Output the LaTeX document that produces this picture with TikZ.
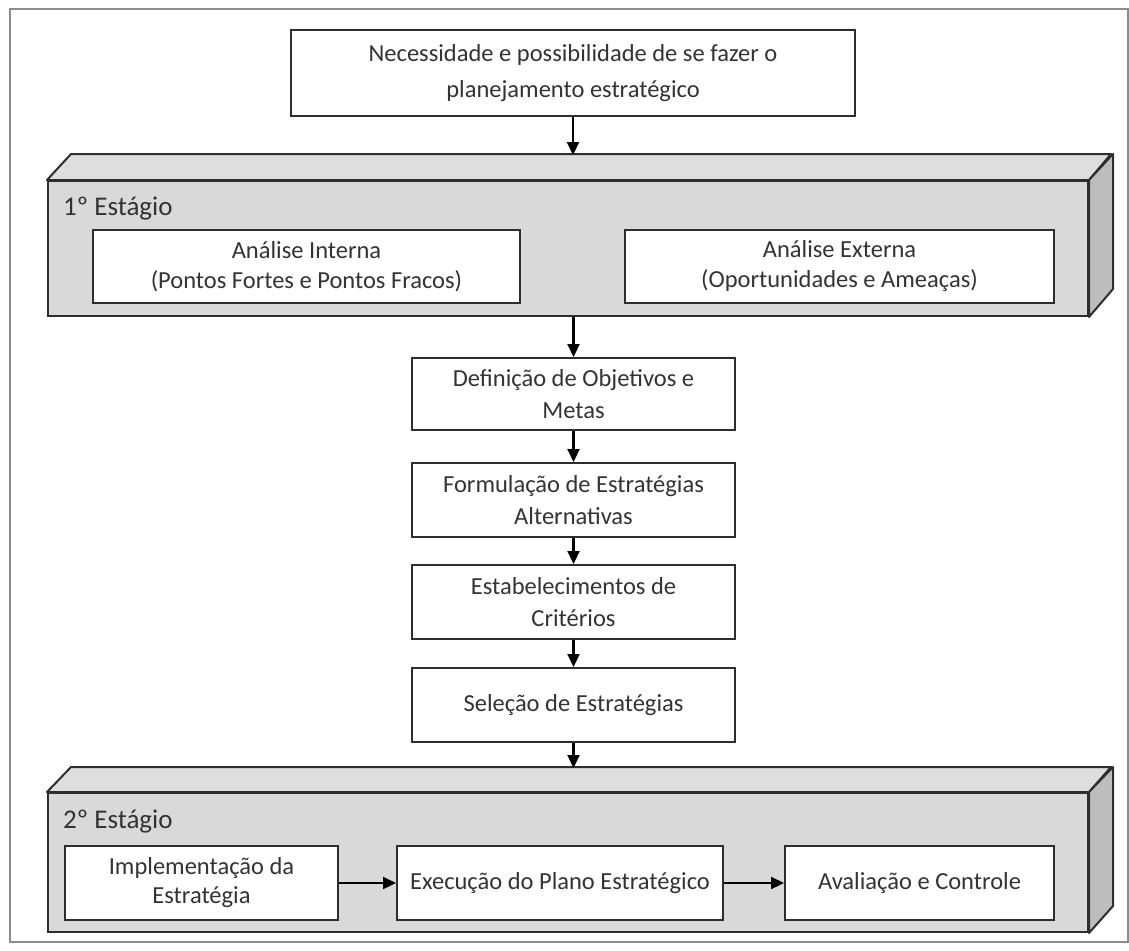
\documentclass[tikz,border=0pt]{standalone}
\usepackage{fontspec}
\setmainfont{Carlito}
\usetikzlibrary{arrows.meta}
\definecolor{txt}{HTML}{333333}
\definecolor{edge}{HTML}{2E2E2E}
\definecolor{frontgray}{HTML}{D9D9D9}
\definecolor{topgray}{HTML}{DEDEDE}
\definecolor{sidegray}{HTML}{BDBDBD}
\begin{document}
\begin{tikzpicture}[x=1pt,y=-1pt,
  box/.style={draw=edge, line width=2pt, fill=white, align=center, text=txt, inner sep=0pt,
    font=\fontsize{24.5}{32}\selectfont},
  arr/.style={draw=black, line width=2.2pt, -{Triangle[length=13pt,width=12pt]}},
  front/.style={draw=edge, line width=2pt, fill=frontgray, inner sep=0pt},
  topface/.style={draw=edge, line width=2pt, fill=topgray, line join=round},
  sideface/.style={draw=edge, line width=2pt, fill=sidegray, line join=round},
  stagelabel/.style={anchor=west, text=txt, inner sep=0pt, font=\fontsize{27}{30}\selectfont}]
\useasboundingbox (0,0) rectangle (1129,950);
% outer frame
\draw[black!45, line width=1.5pt] (10,9) rectangle (1128,942);

% top box
\node[box, minimum width=564pt, minimum height=86pt, font=\fontsize{24.5}{36}\selectfont] (need) at (573,73)
  {Necessidade e possibilidade de se fazer o\\planejamento estratégico};

% stage 1
\node[front, minimum width=1040pt, minimum height=135pt] (s1) at (568,248.5) {};
\draw[topface] (s1.north west) -- ++(24,-26) -- ++(1040,0) -- (s1.north east) -- cycle;
\draw[sideface] (s1.north east) -- ++(24,-26) -- ++(0,135) -- (s1.south east) -- cycle;
\node[stagelabel] (l1) at (63,209) {1º Estágio};
\coordinate (s1in) at (573,155);
\node[box, minimum width=427pt, minimum height=73pt, font=\fontsize{24.5}{30}\selectfont] (ai) at (306.5,266.5)
  {Análise Interna\\(Pontos Fortes e Pontos Fracos)};
\node[box, minimum width=429pt, minimum height=73pt, font=\fontsize{24.5}{30}\selectfont] (ae) at (839.5,266.5)
  {Análise Externa\\(Oportunidades e Ameaças)};

% middle column
\node[box, minimum width=323pt, minimum height=72pt] (def) at (573.5,394)
  {Definição de Objetivos e\\Metas};
\node[box, minimum width=323pt, minimum height=74pt] (form) at (573.5,500)
  {Formulação de Estratégias\\Alternativas};
\node[box, minimum width=323pt, minimum height=74pt] (est) at (573.5,602)
  {Estabelecimentos de\\Critérios};
\node[box, minimum width=323pt, minimum height=74pt] (sel) at (573.5,705)
  {Seleção de Estratégias};

% stage 2
\node[front, minimum width=1040pt, minimum height=139pt] (s2) at (568,862.5) {};
\draw[topface] (s2.north west) -- ++(24,-25) -- ++(1040,0) -- (s2.north east) -- cycle;
\draw[sideface] (s2.north east) -- ++(24,-25) -- ++(0,139) -- (s2.south east) -- cycle;
\node[stagelabel] (l2) at (63,822) {2º Estágio};
\coordinate (s2in) at (573.5,768);
\node[box, minimum width=273pt, minimum height=74pt, font=\fontsize{24.5}{29}\selectfont] (impl) at (201.5,883)
  {Implementação da\\Estratégia};
\node[box, minimum width=326pt, minimum height=74pt] (exec) at (560,883)
  {Execução do Plano Estratégico};
\node[box, minimum width=269pt, minimum height=74pt] (aval) at (919.5,883)
  {Avaliação e Controle};

% connectors
\draw[arr] (need.south) -- (s1in);
\draw[arr] (s1.south -| def.north) -- (def.north);
\draw[arr] (def) -- (form);
\draw[arr] (form) -- (est);
\draw[arr] (est) -- (sel);
\draw[arr] (sel.south) -- (s2in);
\draw[arr] (impl) -- (exec);
\draw[arr] (exec) -- (aval);
\end{tikzpicture}
\end{document}
